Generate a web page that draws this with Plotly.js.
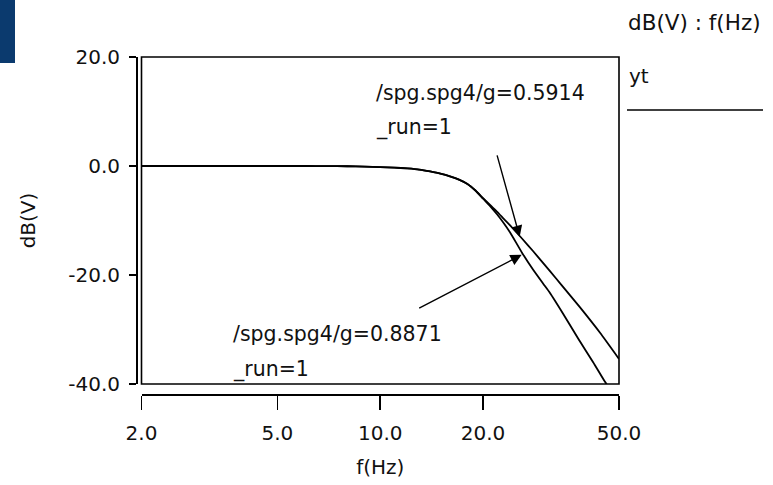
<!DOCTYPE html>
<html>
<head>
<meta charset="utf-8">
<script src="https://cdn.plot.ly/plotly-3.0.1.min.js"></script>
<style>
html,body{margin:0;padding:0;background:#fff;}
#chart{width:773px;height:485px;}
</style>
</head>
<body>
<div id="chart"></div>
<script>
// ---- data ----
var freqUpper = [2, 3, 4, 5, 6, 7, 8, 9, 10, 11, 12, 13, 14, 15, 16, 17, 18, 19, 20, 21, 22, 23, 24, 26, 28, 31.4, 34, 38.4, 44, 50];
var dbUpper   = [0, 0, 0, 0, 0, -0.02, -0.05, -0.1, -0.2, -0.3, -0.45, -0.65, -1.0, -1.4, -1.9, -2.5, -3.3, -4.5, -5.9, -7.2, -8.4, -9.7, -10.9, -13.3, -15.6, -19.3, -21.9, -25.9, -30.6, -35.4];
var freqLower = [2, 3, 4, 5, 6, 7, 8, 9, 10, 11, 12, 13, 14, 15, 16, 17, 18, 19, 20, 21, 22, 23, 24, 26, 28, 30, 31.4, 34.3, 38, 42, 45.5, 50];
var dbLower   = [0, 0, 0, 0, 0, -0.02, -0.05, -0.1, -0.2, -0.3, -0.45, -0.65, -1.0, -1.4, -1.9, -2.5, -3.3, -4.5, -6.0, -7.4, -8.9, -10.5, -12.2, -15.9, -19.0, -21.6, -23.3, -27.1, -31.7, -36.0, -39.6, -43.5];
var xTickVals = [2, 5, 10, 20, 50];
var xTickText = ['2.0', '5.0', '10.0', '20.0', '50.0'];
var yTickVals = [-40, -20, 0, 20];
var yTickText = ['-40.0', '-20.0', '0.0', '20.0'];
var labelUpper = ['/spg.spg4/g=0.5914', '_run=1'];
var labelLower = ['/spg.spg4/g=0.8871', '_run=1'];

var FONT = 'DejaVu Sans, Arial, sans-serif';
var INK = '#111111';

var traces = [
  {x: freqUpper, y: dbUpper, type: 'scatter', mode: 'lines', name: 'g=0.5914',
   line: {color: '#000', width: 1.8, shape: 'spline', smoothing: 0.5}, hoverinfo: 'skip'},
  {x: freqLower, y: dbLower, type: 'scatter', mode: 'lines', name: 'g=0.8871',
   line: {color: '#000', width: 1.8, shape: 'spline', smoothing: 0.5}, hoverinfo: 'skip'}
];

// plot area: x 136..619, y 57..394
var L = 136, R = 619, T = 57, B = 394;
var W = 773, H = 485;
function px(x){ return (x - L) / (R - L); }
function py(y){ return (B - y) / (B - T); }

var layout = {
  width: W, height: H,
  margin: {l: L, r: W - R, t: T, b: H - B, pad: 0},
  paper_bgcolor: '#fff', plot_bgcolor: '#fff',
  showlegend: false,
  font: {family: FONT, size: 20, color: INK},
  xaxis: {
    type: 'log', range: [Math.log10(2), Math.log10(50)],
    domain: [px(141.5), 1], anchor: 'free', position: 0,
    tickvals: xTickVals, ticktext: xTickText,
    ticks: 'outside', ticklen: 14, tickwidth: 1.6, tickcolor: '#000',
    showline: true, linewidth: 1.6, linecolor: '#000',
    showgrid: false, zeroline: false,
    ticklabelstandoff: 6,
    tickfont: {family: FONT, size: 20, color: INK},
    title: {text: 'f(Hz)', font: {family: FONT, size: 20, color: INK}, standoff: 16}
  },
  yaxis: {
    range: [-40, 20],
    domain: [py(384), 1], anchor: 'free', position: 0,
    tickvals: yTickVals, ticktext: yTickText,
    ticks: 'outside', ticklen: 7, tickwidth: 1.6, tickcolor: '#000',
    showline: true, linewidth: 1.6, linecolor: '#000',
    showgrid: false, zeroline: false,
    ticklabelstandoff: 5,
    tickfont: {family: FONT, size: 20, color: INK},
    title: {text: 'dB(V)', font: {family: FONT, size: 20, color: INK}, standoff: 25}
  },
  shapes: [
    {type: 'rect', xref: 'x domain', yref: 'y domain', x0: 0, x1: 1, y0: 0, y1: 1,
     line: {color: '#000', width: 1.6}, layer: 'above'},
    {type: 'rect', xref: 'paper', yref: 'paper', x0: px(0), x1: px(15), y0: py(63), y1: py(0),
     fillcolor: '#0b3a6e', line: {width: 0}},
    {type: 'line', xref: 'paper', yref: 'paper', x0: px(627), x1: px(763), y0: py(110), y1: py(110),
     line: {color: '#000', width: 1.6}}
  ],
  annotations: [
    {xref: 'paper', yref: 'paper', x: px(626), y: py(22), xanchor: 'left', yanchor: 'middle',
     text: 'dB(V) : f(Hz)', showarrow: false, font: {family: FONT, size: 21.5, color: INK}},
    {xref: 'paper', yref: 'paper', x: px(627), y: py(76), xanchor: 'left', yanchor: 'middle',
     text: 'yt', showarrow: false, font: {family: FONT, size: 20, color: INK}},
    {xref: 'paper', yref: 'paper', x: px(374), y: py(93), xanchor: 'left', yanchor: 'middle',
     text: labelUpper[0], showarrow: false, font: {family: FONT, size: 20.5, color: INK}},
    {xref: 'paper', yref: 'paper', x: px(374), y: py(128), xanchor: 'left', yanchor: 'middle',
     text: labelUpper[1], showarrow: false, font: {family: FONT, size: 20.5, color: INK}},
    {xref: 'paper', yref: 'paper', x: px(231), y: py(334), xanchor: 'left', yanchor: 'middle',
     text: labelLower[0], showarrow: false, font: {family: FONT, size: 20.5, color: INK}},
    {xref: 'paper', yref: 'paper', x: px(231), y: py(369), xanchor: 'left', yanchor: 'middle',
     text: labelLower[1], showarrow: false, font: {family: FONT, size: 20.5, color: INK}},
    {xref: 'x', yref: 'y', x: Math.log10(25.6), y: -13.0, text: '', showarrow: true,
     ax: -23, ay: -83, arrowhead: 2, arrowsize: 1.6, arrowwidth: 1.4, arrowcolor: '#000', standoff: 0},
    {xref: 'x', yref: 'y', x: Math.log10(25.95), y: -16.3, text: '', showarrow: true,
     ax: -104, ay: 54, arrowhead: 2, arrowsize: 1.6, arrowwidth: 1.4, arrowcolor: '#000', standoff: 0}
  ]
};

Plotly.newPlot('chart', traces, layout, {staticPlot: true, displayModeBar: false});
</script>
</body>
</html>
